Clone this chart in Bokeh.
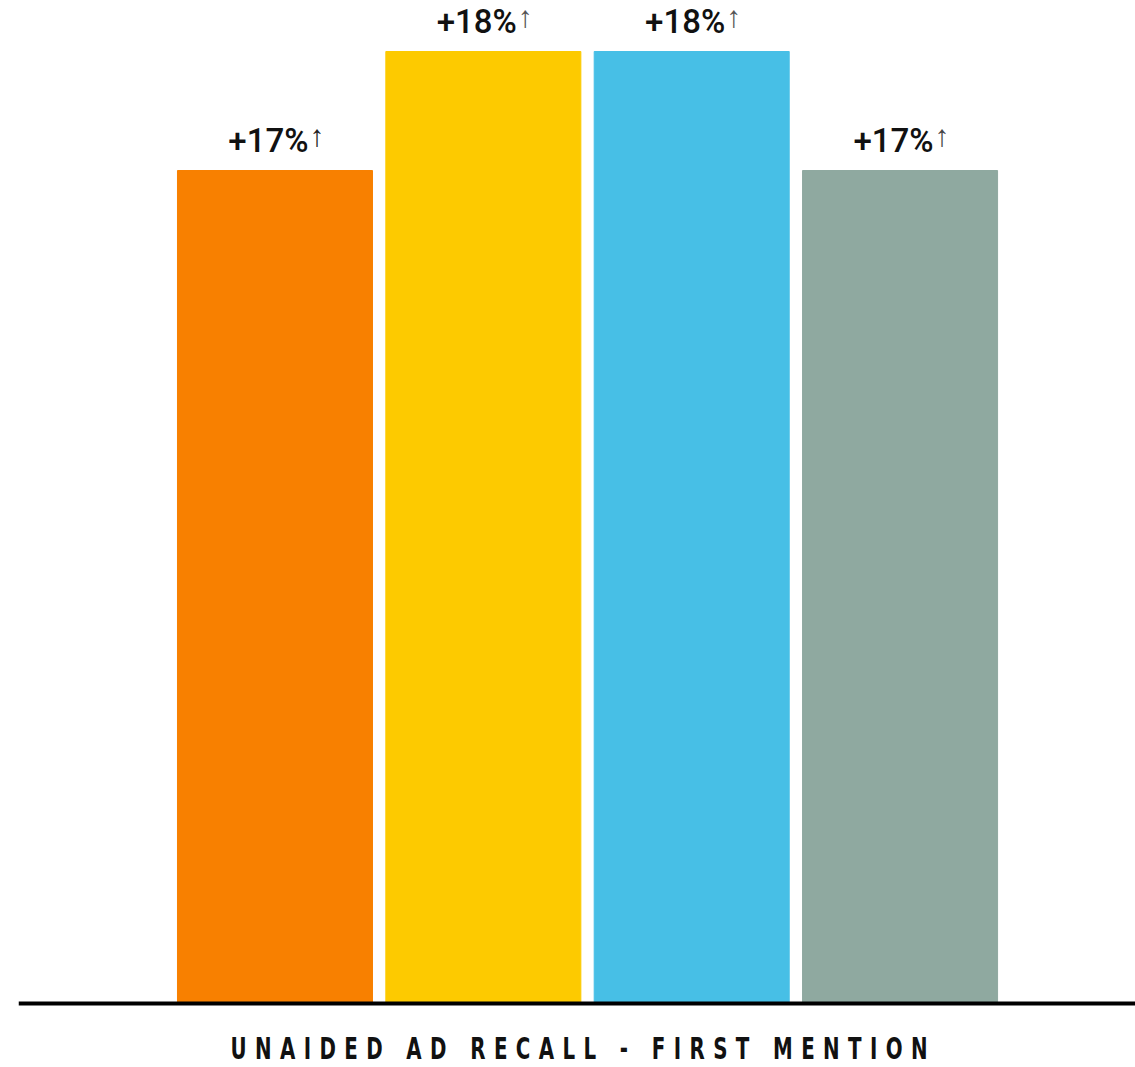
from bokeh.plotting import figure
from bokeh.models import ColumnDataSource, Range1d, Div, Span
from bokeh.layouts import column
from bokeh.core.properties import value
from bokeh.embed import file_html
from bokeh.resources import INLINE

# ---- data ----
categories = ["Group 1", "Group 2", "Group 3", "Group 4"]
lift_values = [17, 18, 18, 17]
baseline = 10
bar_colors = ["#F88000", "#FDCA00", "#47BFE6", "#8FA9A0"]
arrow_colors = ["#222222", "#555555", "#555555", "#444444"]
axis_title = "UNAIDED AD RECALL - FIRST MENTION"

positions = list(range(len(categories)))
labels = [f"+{v}%" for v in lift_values]
arrows = ["\u2191"] * len(categories)

src = ColumnDataSource(dict(x=positions, cat=categories, v=lift_values,
                            color=bar_colors, label=labels, arrow=arrows,
                            acolor=arrow_colors))

p = figure(width=1135, height=1008, output_backend="svg",
           toolbar_location=None, x_range=Range1d(-1.231, 4.130),
           y_range=Range1d(9.958, 18.4286), min_border_left=18, min_border_right=0,
           min_border_top=0, min_border_bottom=0)
p.outline_line_color = None
p.grid.visible = False
p.axis.visible = False
p.background_fill_color = "white"
p.border_fill_color = "white"

p.vbar(x="x", top="v", bottom=baseline, width=0.936, color="color", source=src)
p.add_layout(Span(location=baseline, dimension="width", line_color="black",
                  line_width=4))

p.text(x="x", y="v", text="label", source=src, x_offset=33.5, y_offset=-30,
       text_align="right", text_baseline="alphabetic",
       text_font=value("Roboto Medium"), text_font_style="normal",
       text_font_size="33px", text_color="#111111")
p.text(x="x", y="v", text="arrow", source=src, x_offset=34.5, y_offset=-35,
       text_align="left", text_baseline="alphabetic",
       text_font=value("Liberation Sans"), text_font_size="30px",
       text_color="acolor")

div = Div(text=(
    '<div style="width:1135px;display:flex;justify-content:center;'
    'box-sizing:border-box;margin-top:22px;line-height:26px;">'
    '<span style="display:inline-block;flex:none;transform:translateX(11px) scaleX(0.64);'
    'transform-origin:center;'
    'font-family:\'DejaVu Sans\',sans-serif;font-weight:bold;font-size:31px;'
    'letter-spacing:13.1px;color:#111;white-space:nowrap;">' + axis_title + '</span></div>'),
    width=1135, height=59)

layout = column(p, div, spacing=0)

with open("out.html", "w") as f:
    f.write(file_html(layout, INLINE))
